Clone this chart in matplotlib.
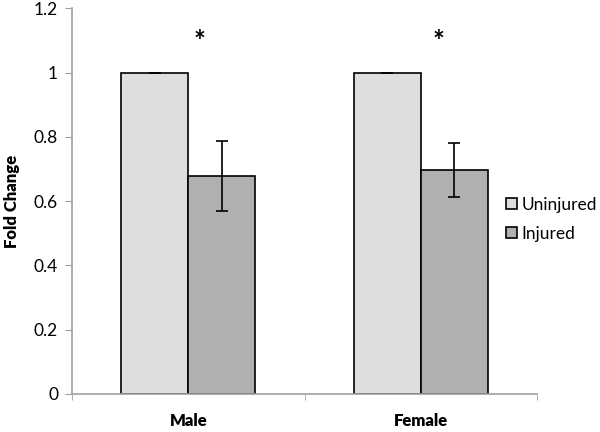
import numpy as np
import matplotlib.pyplot as plt

plt.rcParams['font.family'] = ['Lato', 'DejaVu Sans']

categories = ['Male', 'Female']
groups = ['Uninjured', 'Injured']
uninjured = [1.0, 1.0]
uninjured_err = [0.0, 0.0]
injured = [0.678, 0.697]
injured_err = [0.11, 0.083]
star_y = [1.095, 1.095]
star_dx = [0.05, 0.075]

fig = plt.figure(figsize=(6, 4.32), dpi=100)
ax = fig.add_axes([0.12, 0.088, 0.775, 0.893])

x = np.arange(len(categories)) + 0.5
w = 0.288
err_kw = dict(ecolor='black', elinewidth=1.2, capsize=4, capthick=1.2)
ax.bar(x - w/2, uninjured, w, yerr=uninjured_err, color='#dedede',
       edgecolor='black', linewidth=1.2, label=groups[0], error_kw=err_kw, zorder=2)
ax.bar(x + w/2, injured, w, yerr=injured_err, color='#b0b0b0',
       edgecolor='black', linewidth=1.2, label=groups[1], error_kw=err_kw, zorder=2)

# significance stars above each group
for xi, dx, sy in zip(x, star_dx, star_y):
    ax.text(xi + dx, sy, '*', ha='center', va='center', fontsize=20, fontweight='bold')

ax.set_xlim(0, len(categories))
ax.set_ylim(0, 1.2)
ax.set_yticks(np.arange(0, 1.21, 0.2))
ax.set_yticklabels(['0', '0.2', '0.4', '0.6', '0.8', '1', '1.2'], fontsize=12.5)
ax.set_xticks(x)
ax.set_xticklabels(categories, fontsize=12, fontweight='heavy')
ax.set_xticks(np.arange(len(categories) + 1), minor=True)
ax.tick_params(axis='x', which='major', length=0, pad=14)
ax.tick_params(axis='x', which='minor', length=4, color='#a0a0a0', direction='out')
ax.tick_params(axis='y', length=5, color='#a0a0a0', direction='out', pad=5)
ax.set_ylabel('Fold Change', fontsize=12, fontweight='heavy', labelpad=10)

for s in ['top', 'right']:
    ax.spines[s].set_visible(False)
for s in ['left', 'bottom']:
    ax.spines[s].set_color('#a0a0a0')
    ax.spines[s].set_linewidth(1.2)

fig.legend(loc='center left', bbox_to_anchor=(0.843, 0.493), frameon=False,
           fontsize=12.5, handlelength=0.65, handleheight=0.65, handletextpad=0.25,
           labelspacing=0.75, borderaxespad=0, borderpad=0)

fig.savefig('out.png', dpi=100)
